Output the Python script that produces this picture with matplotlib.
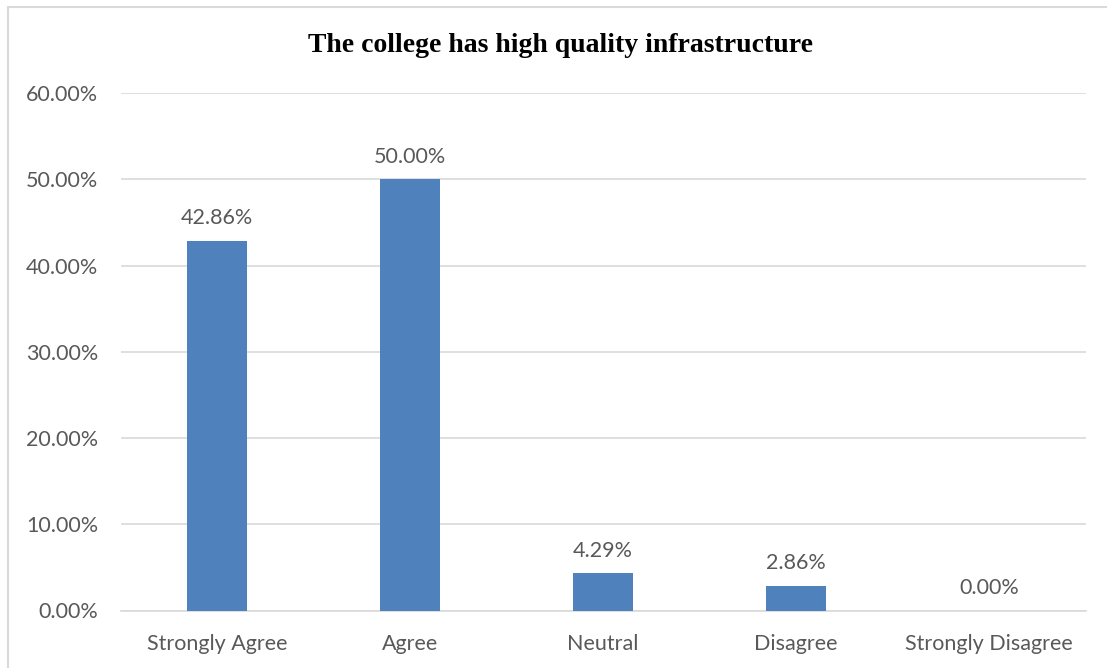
import matplotlib
matplotlib.use("Agg")
import matplotlib.pyplot as plt
from matplotlib.patches import Rectangle
from matplotlib.ticker import FuncFormatter, MultipleLocator

categories = ["Strongly Agree", "Agree", "Neutral", "Disagree", "Strongly Disagree"]
values = [42.86, 50.00, 4.29, 2.86, 0.00]
title = "The college has high quality infrastructure"

W, H = 1107, 668
fig = plt.figure(figsize=(W / 100, H / 100), dpi=100)
ax = fig.add_axes([120.5 / W, 1 - 610.5 / H, 965 / W, 517.5 / H])

label_color = "#595959"
font = ["Lato", "DejaVu Sans"]
fs = 15.5

x = list(range(len(categories)))
ax.bar(x, values, width=0.31, color="#4f81bd", zorder=3)
ax.set_xlim(-0.5, len(categories) - 0.5)
ax.set_ylim(0, 60)
ax.yaxis.set_major_locator(MultipleLocator(10))
ax.yaxis.set_major_formatter(FuncFormatter(lambda v, p: f"{v:.2f}%"))
ax.grid(axis="y", color="#d9d9d9", linewidth=1.2, zorder=0)
for s in ["top", "right", "left"]:
    ax.spines[s].set_visible(False)
ax.spines["bottom"].set_color("#d9d9d9")
ax.spines["bottom"].set_linewidth(1.2)
ax.tick_params(axis="both", length=0, labelcolor=label_color, labelsize=fs)
ax.tick_params(axis="y", pad=16)
ax.tick_params(axis="x", pad=17)
ax.set_xticks(x)
ax.set_xticklabels(categories)
for lbl in ax.get_xticklabels() + ax.get_yticklabels():
    lbl.set_fontfamily(font)

for xi, v in zip(x, values):
    ax.annotate(f"{v:.2f}%", (xi, v), xytext=(0, 9), textcoords="offset points",
                ha="center", va="bottom", fontsize=fs, color=label_color, family=font)

fig.text(561 / W, 1 - 45 / H, title, ha="center", va="center", fontsize=20,
         fontweight="bold", family=["Liberation Serif", "DejaVu Serif"])

fig.patches.append(Rectangle((8 / W, -0.1), 1.2, 1 - 7 / H + 0.1, transform=fig.transFigure,
                             fill=False, edgecolor="#d9d9d9", linewidth=1.5))

fig.savefig("out.png", dpi=100)
